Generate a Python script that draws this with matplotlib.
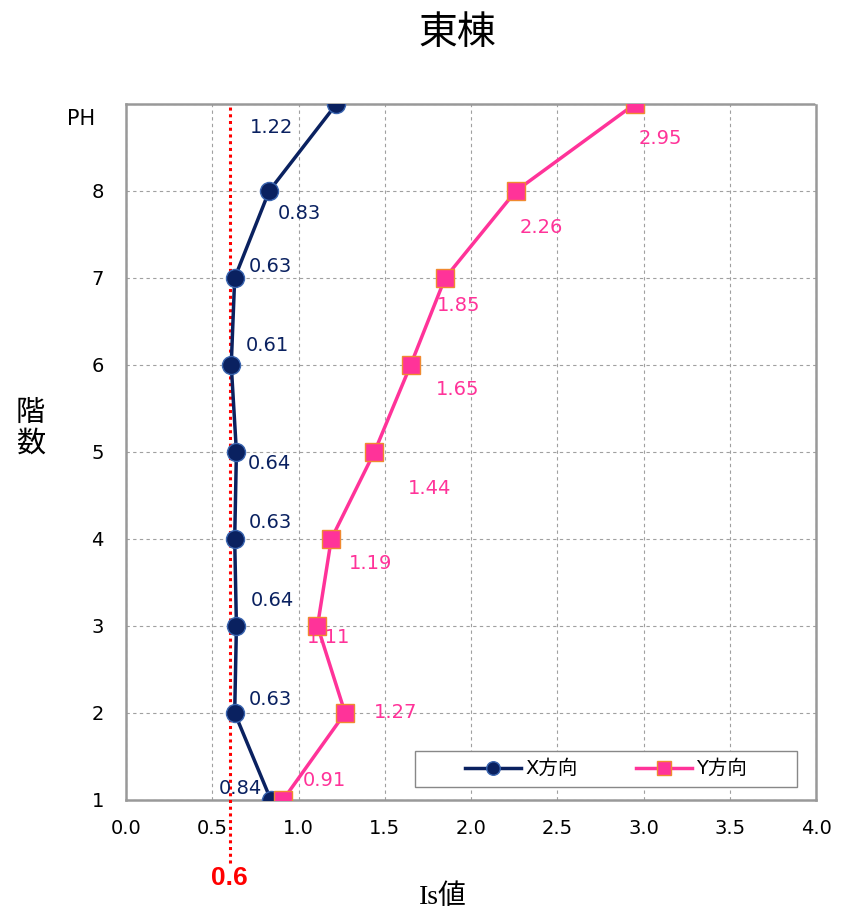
import matplotlib
matplotlib.use("Agg")
from matplotlib import pyplot as plt
from matplotlib import transforms
import numpy as np

plt.rcParams['font.family'] = ['DejaVu Sans', 'Noto Sans CJK JP']

# Is values per floor (1F .. PH)
floors = [1, 2, 3, 4, 5, 6, 7, 8, 9]
floor_labels = ['1', '2', '3', '4', '5', '6', '7', '8', 'PH']
is_x = [0.84, 0.63, 0.64, 0.63, 0.64, 0.61, 0.63, 0.83, 1.22]
is_y = [0.91, 1.27, 1.11, 1.19, 1.44, 1.65, 1.85, 2.26, 2.95]
is_limit = 0.6

# label offsets in points for each value label
off_x = [(-22, 8), (26, 10), (26, 18), (26, 12), (24, -8), (26, 14), (26, 8), (22, -16), (-47, -17)]
off_y = [(30, 14), (36, 0), (8, -8), (28, -18), (40, -26), (34, -18), (10, -20), (18, -26), (18, -25)]

NAVY = '#0a2160'
PINK = '#ff3399'

fig = plt.figure(figsize=(8.48, 9.15), dpi=100)
ax = fig.add_axes([0.1486, 0.1257, 0.8137, 0.7607])

ax.plot(is_x, floors, color=NAVY, lw=2.5, marker='o', ms=13,
        mfc=NAVY, mec='#3a65b0', mew=1.0, label='X方向', zorder=4)
ax.plot(is_y, floors, color=PINK, lw=2.5, marker='s', ms=13,
        mfc=PINK, mec='#f08a30', mew=1.0, label='Y方向', zorder=4)

for v, f, o in zip(is_x, floors, off_x):
    ax.annotate(f'{v:.2f}', (v, f), xytext=o, textcoords='offset points',
                ha='center', va='center', color=NAVY, fontsize=14, zorder=5)
for v, f, o in zip(is_y, floors, off_y):
    ax.annotate(f'{v:.2f}', (v, f), xytext=o, textcoords='offset points',
                ha='center', va='center', color=PINK, fontsize=14, zorder=5)

# required Is line, running below the axis to its label
ax.axvline(is_limit, ymin=-0.09, ymax=1, color='red', lw=2.2,
           ls=(0, (1, 1.2)), clip_on=False, zorder=3)
ax.text(is_limit, -0.112, f'{is_limit}', transform=ax.get_xaxis_transform(),
        ha='center', va='center', color='red', fontsize=19, fontweight='bold',
        family=['Liberation Sans'])

ax.set_xlim(0, 4)
ax.set_ylim(1, 9)
ax.set_xticks(np.arange(0, 4.01, 0.5))
ax.set_xticklabels([f'{t:.1f}' for t in np.arange(0, 4.01, 0.5)])
ax.set_yticks(floors)
ax.set_yticklabels(floor_labels)
ax.tick_params(length=0, labelsize=14)
ax.tick_params(axis='x', pad=14)
ax.tick_params(axis='y', pad=16)

# PH label sits a bit lower and further left than the floor numbers
ph = ax.get_yticklabels()[-1]
ph.set_fontsize(15)
ph.set_transform(ph.get_transform() + transforms.ScaledTranslation(-0.09, -0.13, fig.dpi_scale_trans))

ax.grid(True, color='#a0a0a0', ls=(0, (3, 3)), lw=0.8)
ax.set_axisbelow(True)
for side in ['left', 'bottom']:
    ax.spines[side].set_color('#999999')
    ax.spines[side].set_linewidth(1.8)
for side in ['top', 'right']:
    ax.spines[side].set_color('#999999')
    ax.spines[side].set_linewidth(1.8)
    ax.spines[side].set_linestyle((0, (2, 1)))

fig.text(0.539, 0.964, '東棟', ha='center', va='center', fontsize=28,
         family=['Noto Sans CJK JP'])
fig.text(0.036, 0.532, '階\n数', ha='center', va='center', fontsize=21,
         linespacing=1.05, family=['Noto Sans CJK JP'])
fig.text(0.522, 0.019, 'Is値', ha='center', va='center', fontsize=20,
         family=['Liberation Serif', 'Noto Sans CJK JP'])

# legend box frame, legend entries centred inside it
box = plt.Rectangle((0.419, 0.0187), 0.553, 0.052, transform=ax.transAxes,
                    facecolor='white', edgecolor='#888888', lw=1.0, zorder=5)
ax.add_patch(box)
leg = ax.legend(loc='center', bbox_to_anchor=(0.6955, 0.0447), ncol=2,
                frameon=False, handlelength=2.9,
                handletextpad=0.2, columnspacing=3.0, markerscale=0.75,
                prop={'family': ['DejaVu Sans', 'Noto Sans CJK JP'], 'size': 14})
leg.set_zorder(6)

plt.savefig('out.png', dpi=100)
